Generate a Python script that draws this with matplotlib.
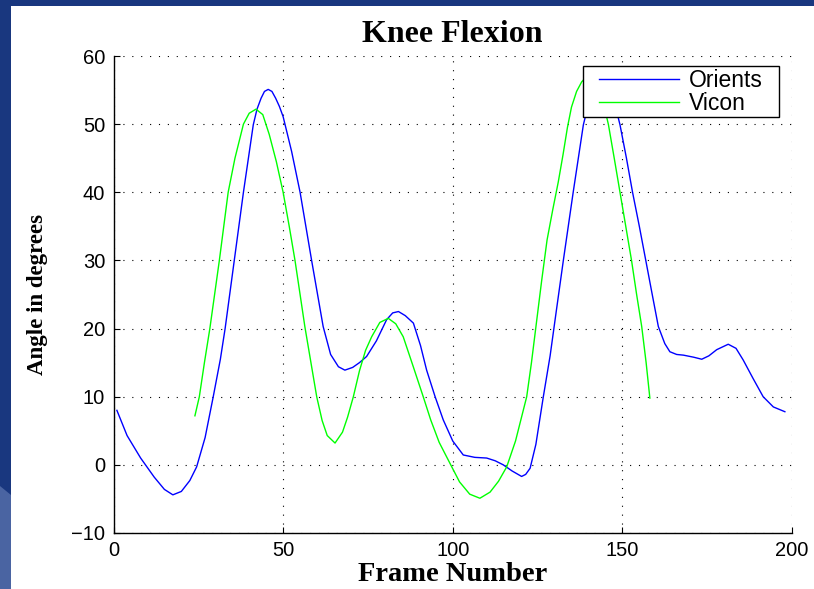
import matplotlib
matplotlib.use("Agg")
import matplotlib.pyplot as plt
from matplotlib.patches import Rectangle, Polygon
from matplotlib.lines import Line2D
from matplotlib.legend_handler import HandlerLine2D

# Knee flexion angles (degrees)
orients_frames = [1, 4, 8, 12, 15, 17.5, 20, 22.5, 24.5, 27, 29.4, 31.5, 32.9, 35.6, 38.3, 41.2,
                  42.3, 43.5, 44.5, 45.6, 46.7, 47.8, 48.9, 50, 52.5, 55, 58.4, 61.8, 64, 66.3,
                  68.2, 70.5, 72.5, 74.6, 77.5, 80.5, 82.3, 84, 86, 88.4, 90.5, 92.3, 94.8, 97.2,
                  100, 103.1, 106.5, 110, 112.5, 114.9, 117.5, 120.3, 121.5, 122.8, 124.5, 126.7,
                  128.7, 130.5, 132.6, 135.5, 138.5, 141, 144, 146.5, 149.3, 151.2, 153, 155,
                  156.9, 158.8, 160.6, 162.5, 164, 166, 168, 171, 173.4, 175.5, 177.8, 181.2,
                  183.5, 185.6, 188.5, 191.5, 194.5, 197.9]
orients_angle = [8.0, 4.3, 1.0, -1.8, -3.6, -4.4, -3.9, -2.3, -0.3, 4.0, 10.0, 15.5, 20.0, 30.0,
                 40.0, 49.9, 52.2, 53.8, 54.8, 55.1, 54.8, 53.8, 52.6, 51.1, 46.0, 40.0, 30.0,
                 20.3, 16.2, 14.4, 13.9, 14.3, 15.0, 15.9, 18.2, 21.3, 22.3, 22.5, 21.9, 20.8,
                 17.5, 13.9, 10.0, 6.6, 3.5, 1.45, 1.1, 1.0, 0.6, 0.0, -0.9, -1.7, -1.4, -0.5,
                 3.0, 10.0, 16.0, 22.5, 30.0, 40.0, 49.9, 55.0, 57.0, 55.5, 49.9, 45.0, 40.0,
                 35.0, 30.0, 25.0, 20.3, 17.8, 16.6, 16.2, 16.1, 15.8, 15.5, 16.0, 16.9, 17.7,
                 17.1, 15.4, 12.7, 10.0, 8.5, 7.8]

vicon_frames = [24, 25.3, 26.8, 28.4, 29.8, 31.2, 32.5, 33.8, 35.8, 38.3, 40, 42, 44, 45.9,
                48, 50, 51.8, 53.5, 55, 56.4, 58.2, 59.9, 61.5, 63, 65.3, 67.5, 69, 70.7, 72.5,
                74.3, 76.1, 78.5, 81, 83.2, 85.4, 88.3, 91.3, 93.5, 96, 99.2, 102, 105, 108,
                111, 113.5, 115.9, 118.5, 121.8, 123.2, 124.7, 126.2, 127.8, 129.5, 131.1,
                132.5, 133.8, 135, 136.5, 138, 139.5, 141, 142.5, 144, 145.9, 147.6, 149.3,
                151, 152.7, 154.2, 155.7, 157, 158.1]
vicon_angle = [7.2, 10.0, 15.0, 20.0, 25.0, 30.0, 35.0, 40.0, 45.0, 50.0, 51.6, 52.2, 51.4, 48.5,
               44.5, 40.0, 35.0, 30.0, 25.0, 20.3, 15.0, 10.0, 6.5, 4.3, 3.2, 4.8, 7.0, 10.0, 13.8,
               16.8, 18.8, 20.9, 21.5, 20.7, 18.8, 14.5, 10.0, 6.6, 3.3, 0.2, -2.5, -4.3, -4.9,
               -4.0, -2.4, -0.3, 3.5, 10.0, 15.0, 21.0, 27.0, 33.0, 37.5, 41.5, 45.5, 49.5, 52.5,
               54.8, 56.2, 57.0, 57.2, 56.3, 54.0, 49.9, 45.0, 40.0, 35.0, 30.0, 25.0, 20.3,
               15.0, 9.8]

x_ticks = [0, 50, 100, 150, 200]
y_ticks = [-10, 0, 10, 20, 30, 40, 50, 60]

serif = "Liberation Serif"
sans = "Liberation Sans"

fig = plt.figure(figsize=(8.14, 5.89), dpi=100)
fig.patch.set_facecolor("#19377f")

# slide background: lighter blue swoosh and the white panel
fig.patches.append(Polygon([(0, 0), (0, 1 - 486 / 589), (11 / 814, 1 - 495 / 589), (11 / 814, 0)],
                           closed=True, transform=fig.transFigure, facecolor="#4a64a2",
                           edgecolor="none", zorder=-5))
fig.patches.append(Rectangle((11 / 814, 0), 1 - 11 / 814, 1 - 6 / 589,
                             transform=fig.transFigure, facecolor="white",
                             edgecolor="none", zorder=-5))

ax = fig.add_axes([113.5 / 814, 1 - 533 / 589, 678.5 / 814, 477 / 589])
ax.set_facecolor("white")

ax.plot(orients_frames, orients_angle, color=(0, 0, 1), lw=1.0, label="Orients")
ax.plot(vicon_frames, vicon_angle, color=(0, 1, 0), lw=1.0, label="Vicon")

ax.set_xlim(0, 200)
ax.set_ylim(-10, 60)
ax.set_xticks(x_ticks)
ax.set_yticks(y_ticks)
ax.set_yticklabels(["\u221210"] + [str(v) for v in y_ticks[1:]])

for side in ["top", "right"]:
    ax.spines[side].set_visible(False)
for side in ["left", "bottom"]:
    ax.spines[side].set_linewidth(1.0)

ax.grid(True, color="black", linestyle=(0, (1, 7)), linewidth=0.8)
ax.tick_params(direction="in", length=4, width=0.8, labelsize=14.5, pad=6)
for lab in ax.get_xticklabels() + ax.get_yticklabels():
    lab.set_fontfamily(sans)

ax.set_title("Knee Flexion", fontsize=23, fontweight="bold", family=serif, pad=10)
ax.set_xlabel("Frame Number", fontsize=20.5, fontweight="bold", family=serif)
ax.set_ylabel("Angle in degrees", fontsize=16.5, fontweight="bold", family=serif)
ax.xaxis.set_label_coords(0.5, -0.06)
ax.yaxis.set_label_coords(-0.097, 0.5)

# legend box stretched to the width of the MATLAB one, line inset from the left edge
leg = ax.legend(loc="upper right", bbox_to_anchor=(0.692, 0.5, 0.289, 0.478),
                mode="expand", borderaxespad=0,
                fancybox=False, framealpha=1, edgecolor="black",
                prop={"family": sans, "size": 16.5}, handlelength=4.1,
                handletextpad=0.4, labelspacing=0.0, borderpad=0.1,
                handler_map={Line2D: HandlerLine2D(xpad=0.6)})
leg.get_frame().set_linewidth(1.0)

fig.savefig("out.png", dpi=100, facecolor=fig.get_facecolor())
